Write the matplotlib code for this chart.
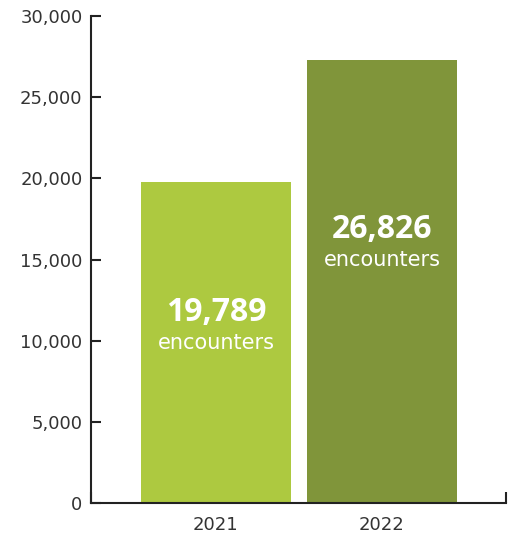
import matplotlib
matplotlib.use("Agg")
import matplotlib.pyplot as plt

years = ["2021", "2022"]
bar_heights = [19789, 27300]          # as drawn in the picture
encounter_counts = [19789, 26826]     # as printed on the bars
bar_colors = ["#adc940", "#80953a"]
y_ticks = [0, 5000, 10000, 15000, 20000, 25000, 30000]

plt.rcParams["font.family"] = ["DejaVu Sans"]

fig = plt.figure(figsize=(5.11, 5.37), dpi=100)
ax = fig.add_axes([0.178, 0.0633, 0.812, 0.9067])

x = range(len(years))
ax.bar(x, bar_heights, width=0.904, color=bar_colors)

# label position as a fraction of bar height
label_frac = [0.592, 0.617]
for i, (h, n) in enumerate(zip(bar_heights, encounter_counts)):
    yc = h * label_frac[i]
    ax.text(i, yc, f"{n:,}", ha="center", va="center", color="white",
            fontsize=23, fontweight="bold", family="Open Sans")
    ax.text(i, yc - 1850, "encounters", ha="center", va="center",
            color="white", fontsize=15)

ax.set_xlim(-0.753, 1.747)
ax.set_ylim(0, 30000)
ax.set_yticks(y_ticks)
ax.set_yticklabels([f"{v:,}" for v in y_ticks])
ax.set_xticks(list(x))
ax.set_xticklabels(years)
ax.set_xticks([-0.753, 1.747], minor=True)

for s in ["top", "right"]:
    ax.spines[s].set_visible(False)
for s in ["left", "bottom"]:
    ax.spines[s].set_linewidth(1.5)
    ax.spines[s].set_color("#222222")

ax.tick_params(axis="y", direction="in", length=7.5, width=1.5,
               color="#222222", pad=6, labelsize=13, labelcolor="#333333")
ax.tick_params(axis="x", which="major", length=0, pad=9,
               labelsize=13, labelcolor="#333333")
ax.tick_params(axis="x", which="minor", direction="in", length=8,
               width=1.5, color="#222222")

fig.savefig("out.png", dpi=100)
